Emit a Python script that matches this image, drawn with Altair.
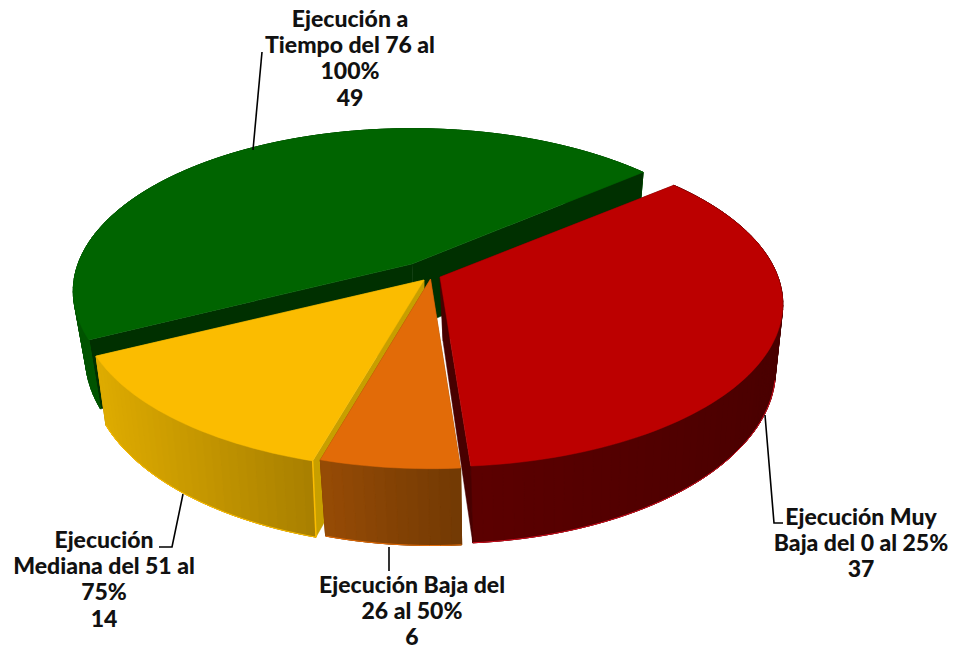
import math
import altair as alt

names = ["Ejecución a Tiempo del 76 al 100%", "Ejecución Muy Baja del 0 al 25%",
         "Ejecución Mediana del 51 al 75%", "Ejecución Baja del 26 al 50%"]
values = [49, 37, 14, 6]
label_lines = [["Ejecución a", "Tiempo del 76 al", "100%", "49"],
               ["Ejecución Muy", "Baja del 0 al 25%", "37"],
               ["Ejecución", "Mediana del 51 al", "75%", "14"],
               ["Ejecución Baja del", "26 al 50%", "6"]]
label_x = [342, 853, 96, 404]
label_y = [12, 510, 533, 578]
LINE_STEP = 26.2
top_colors = ["#006400", "#BC0000", "#FBBC00", "#E26B08"]
wall_left = ["#005400", "#5C0000", "#DFAC00", "#984C05"]
wall_right = ["#005400", "#4A0000", "#A98000", "#733A04"]
cut_colors = ["#003000", "#480000", "#C79F00", "#8A4505"]
edge_colors = [None, "#D01020", "#FBBC00", "#E26B08"]
# explosion centre of every slice, page pixels less the 8px margin
centers = [(404, 256), (432, 269), (416, 272), (422.5, 271)]
start_angle = [243.6, 50.0, 196.0, 175.7]
slice_a = [334, 338, 339, 334]
slice_shift = [2, 3, 0, 2]
leaders = [[(254, 44), (245, 142)],
           [(757, 407), (766, 515), (775, 515)],
           [(175, 486), (164, 539), (151, 539)],
           [(381, 539), (381, 563)]]
# which cut face (0 start, 1 end) is painted over the outer wall of each slice
cut_over_wall = [1, 1, 0, None]

B, K, DEPTH, TAPER = 158, 0.167, 64, 0.97
TOTAL = sum(values)


def rim(i, deg, r=1.0, low=False):
    c = centers[i]
    t = math.radians(deg)
    X, Y = r * math.sin(t), r * math.cos(t)
    s = 1 / (1 + K * Y)
    x, y = c[0] + slice_a[i] * X * s, c[1] - B * Y * s
    if low:
        x = c[0] + (x - c[0]) * TAPER + slice_shift[i]
        y += DEPTH * s
    return [round(x, 2), round(y, 2)]


def poly(pts, fill, stroke=None, sw=1.0):
    return {"type": "Feature",
            "geometry": {"type": "Polygon", "coordinates": [pts + [pts[0]]]},
            "properties": {"fill": fill, "stroke": stroke or fill, "sw": sw}}


def mix(a, b, f):
    ca = [int(a[i:i + 2], 16) for i in (1, 3, 5)]
    cb = [int(b[i:i + 2], 16) for i in (1, 3, 5)]
    return "#%02X%02X%02X" % tuple(round(p + (q - p) * f) for p, q in zip(ca, cb))


def cut(i, a0):
    return poly([rim(i, a0, 0), rim(i, a0), rim(i, a0, low=True), rim(i, a0, 0, low=True)], cut_colors[i], sw=0.5)


features, outlines = [], []
for i in range(4):
    start = start_angle[i]
    sweep = values[i] / TOTAL * 360
    end = start + sweep
    n = max(8, int(sweep / 1.5))
    angs = [start + sweep * j / n for j in range(n + 1)]
    ends = [start, end]
    for k in (0, 1):
        if cut_over_wall[i] != k:
            features.append(cut(i, ends[k]))
    # outer wall: a base under the gradient strips
    features.append(poly([rim(i, a) for a in angs] + [rim(i, a, low=True) for a in reversed(angs)],
                         mix(wall_left[i], wall_right[i], 0.5)))
    xs = [rim(i, a)[0] for a in angs if math.cos(math.radians(a)) < 0.3]
    lo, hi = min(xs), max(xs)
    for a0, a1 in zip(angs[:-1], angs[1:]):
        f = min(1, max(0, (rim(i, a0)[0] - lo) / (hi - lo)))
        features.append(poly([rim(i, a0), rim(i, a1), rim(i, a1, low=True), rim(i, a0, low=True)],
                             mix(wall_left[i], wall_right[i], f)))
    if cut_over_wall[i] is not None:
        features.append(cut(i, ends[cut_over_wall[i]]))
    # top face
    features.append(poly([rim(i, 0, 0)] + [rim(i, a) for a in angs], top_colors[i], sw=0.5))
    if edge_colors[i]:
        front = [a for a in angs if math.cos(math.radians(a)) < -0.2]
        outlines.append({"type": "Feature",
                         "geometry": {"type": "LineString", "coordinates": [rim(i, a, low=True) for a in front]},
                         "properties": {"stroke": edge_colors[i], "sw": 1.0}})
    if i == 2:
        outlines.append({"type": "Feature",
                         "geometry": {"type": "LineString", "coordinates": [rim(i, start), rim(i, start, low=True)]},
                         "properties": {"stroke": edge_colors[i], "sw": 1.5}})

for pts in leaders:
    outlines.append({"type": "Feature",
                     "geometry": {"type": "LineString", "coordinates": [list(p) for p in pts]},
                     "properties": {"stroke": "#000000", "sw": 1.6}})

fmt = alt.DataFormat(property="features", type="json")
PROJ = dict(type="identity", scale=1, translate=[0, 0])

faces = alt.Chart(alt.Data(values={"type": "FeatureCollection", "features": features}, format=fmt)).mark_geoshape().encode(
    fill=alt.Fill("properties.fill:N", scale=None),
    stroke=alt.Stroke("properties.stroke:N", scale=None),
    strokeWidth=alt.StrokeWidth("properties.sw:Q", scale=None),
).project(**PROJ)

lines = alt.Chart(alt.Data(values={"type": "FeatureCollection", "features": outlines}, format=fmt)).mark_geoshape(filled=False).encode(
    stroke=alt.Stroke("properties.stroke:N", scale=None),
    strokeWidth=alt.StrokeWidth("properties.sw:Q", scale=None),
).project(**PROJ)

rows = [{"t": t, "x": label_x[i], "y": label_y[i] + j * LINE_STEP}
        for i, group in enumerate(label_lines) for j, t in enumerate(group)]
labels = alt.Chart(alt.Data(values=rows)).mark_text(
    font="Lato", fontWeight=900, fontSize=23,
    align="center", baseline="middle", color="#111111",
).encode(x=alt.X("x:Q", scale=None), y=alt.Y("y:Q", scale=None), text="t:N")

chart = alt.layer(faces, lines, labels).properties(
    width=940, height=640, padding=0, autosize=alt.AutoSizeParams(type="none")
).configure_view(stroke=None)

chart.save("out.html", embed_options={"renderer": "svg", "actions": False})
